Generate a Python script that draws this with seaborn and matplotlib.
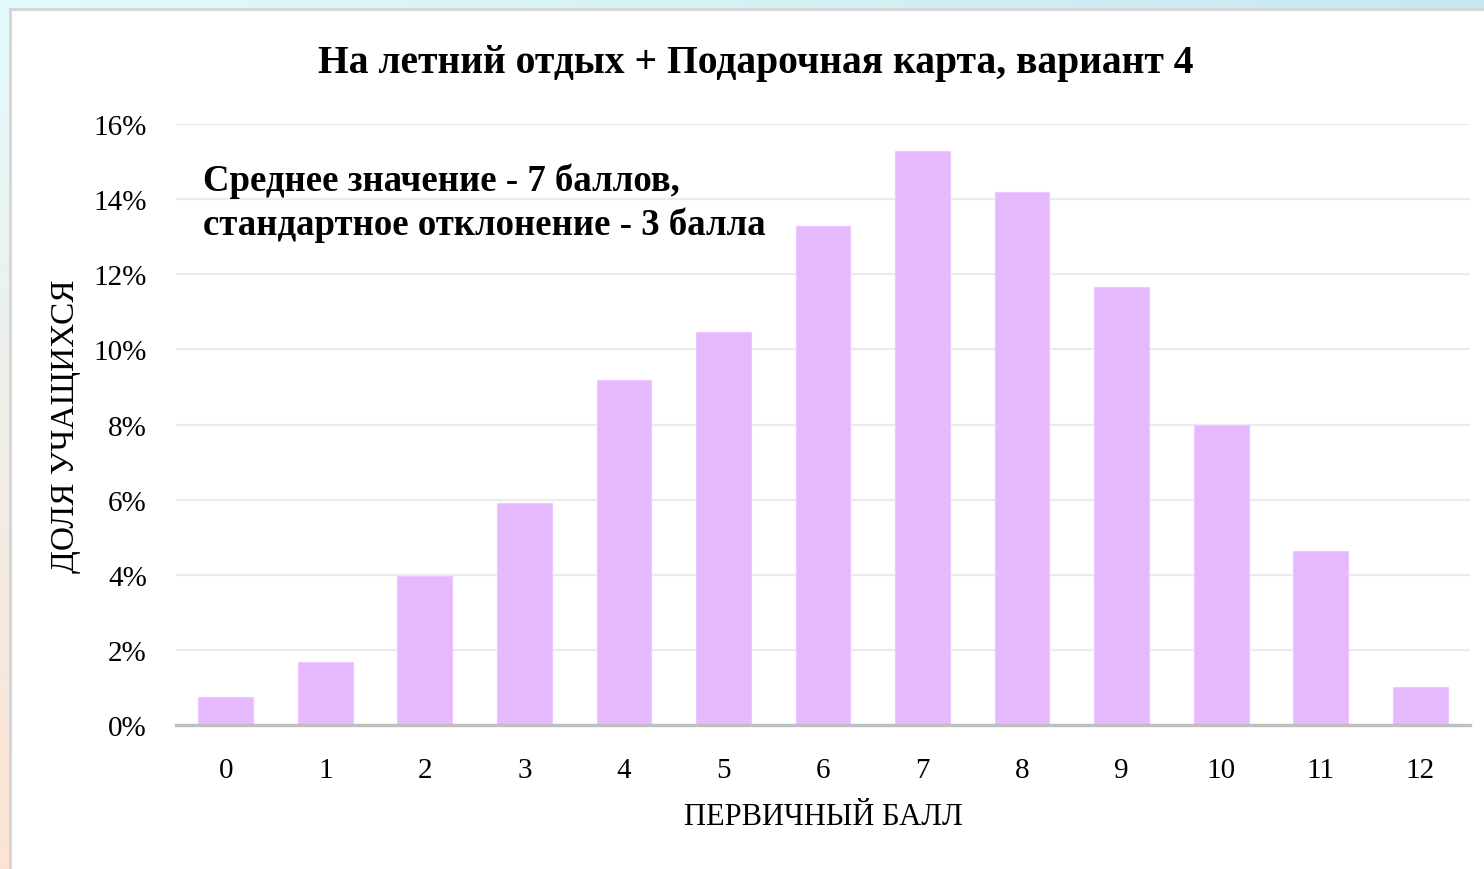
import numpy as np
import pandas as pd
import seaborn as sns
from matplotlib import pyplot as plt
from matplotlib.patches import Rectangle
from matplotlib.ticker import PercentFormatter

# values
scores = ['0', '1', '2', '3', '4', '5', '6', '7', '8', '9', '10', '11', '12']
shares = [0.75, 1.68, 3.97, 5.91, 9.19, 10.46, 13.29, 15.28, 14.19, 11.66, 7.99, 4.63, 1.01]
title = 'На летний отдых + Подарочная карта, вариант 4'
note = 'Среднее значение - 7 баллов,\nстандартное отклонение - 3 балла'
xlabel = 'ПЕРВИЧНЫЙ БАЛЛ'
ylabel = 'ДОЛЯ УЧАЩИХСЯ'

df = pd.DataFrame({'score': scores, 'share': shares})

sns.set_theme(style='white')
plt.rcParams['font.family'] = ['Liberation Serif', 'DejaVu Serif']

fig = plt.figure(figsize=(14.84, 8.7), dpi=100)

# soft gradient backdrop + white panel with grey frame
bg = fig.add_axes([0, 0, 1, 1], zorder=-10)
tl = np.array([0.89, 0.98, 0.99])
tr = np.array([0.78, 0.91, 0.94])
bl = np.array([0.99, 0.89, 0.83])
br = np.array([0.95, 0.93, 0.90])
u = np.linspace(0, 1, 200)[None, :, None]
v = np.linspace(0, 1, 120)[:, None, None]
grad = (1 - v) * ((1 - u) * tl + u * tr) + v * ((1 - u) * bl + u * br)
bg.imshow(grad, aspect='auto', extent=[0, 1, 0, 1])
bg.add_patch(Rectangle((9.5 / 1484, -0.1), 1.2, 1 - 9.5 / 870 + 0.1,
                       facecolor='white', edgecolor='#d6d6d6', linewidth=2.2))
bg.set_xlim(0, 1)
bg.set_ylim(0, 1)
bg.axis('off')

ax = fig.add_axes([176 / 1484, 1 - 726 / 870, (1470 - 176) / 1484, (726 - 125) / 870])
ax.set_facecolor('none')
sns.barplot(data=df, x='score', y='share', color='#e6b9ff', saturation=1,
            width=0.55, ax=ax, zorder=3, edgecolor='#ecc8ff', linewidth=0.8)

ax.set_xlim(-0.5, 12.5)
ax.set_ylim(0, 16)
ax.set_yticks(range(0, 17, 2))
ax.yaxis.set_major_formatter(PercentFormatter(decimals=0))
ax.grid(axis='y', color='#ebebeb', linewidth=1.6, zorder=0)
ax.set_axisbelow(True)
for s in ['top', 'right', 'left']:
    ax.spines[s].set_visible(False)
ax.spines['bottom'].set_color('#bfbfbf')
ax.spines['bottom'].set_linewidth(2.4)
ax.spines['bottom'].set_zorder(4)
ax.tick_params(axis='both', length=0, labelsize=21, labelcolor='black')
ax.tick_params(axis='x', pad=23)
ax.tick_params(axis='y', pad=21)

ax.set_xlabel(xlabel, fontsize=22, color='black')
ax.set_ylabel(ylabel, fontsize=24, color='black')
ax.xaxis.set_label_coords((823 - 176) / (1470 - 176), -(818 - 726) / (726 - 125))
ax.yaxis.set_label_coords(-(176 - 66) / (1470 - 176), (726 - 426) / (726 - 125))
ax.xaxis.label.set_va('center')
ax.yaxis.label.set_va('center')

fig.text(756 / 1484, 1 - 63 / 870, title, ha='center', va='center',
         fontsize=28.5, fontweight='bold', color='black')
ax.text(203 / 1484, 1 - 203 / 870, note, transform=fig.transFigure,
        ha='left', va='center', fontsize=26.5, fontweight='bold', color='black',
        linespacing=1.3)

fig.savefig('out.png', dpi=100)
